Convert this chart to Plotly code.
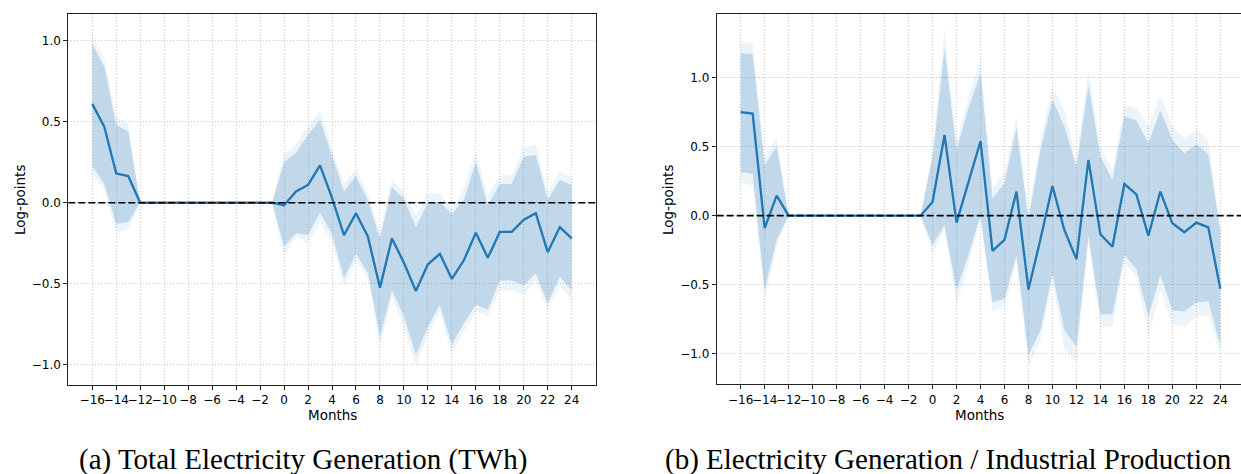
import plotly.graph_objects as go

W, H = 1241, 474

months = [-16, -15, -14, -13, -12, -11, -10, -9, -8, -7, -6, -5, -4, -3, -2, -1,
          0, 1, 2, 3, 4, 5, 6, 7, 8, 9, 10, 11, 12, 13, 14, 15, 16, 17, 18, 19, 20,
          21, 22, 23, 24]
ref_zeros = [0.0] * 12

tick_vals = [-16, -14, -12, -10, -8, -6, -4, -2, 0, 2, 4, 6, 8, 10, 12, 14, 16, 18, 20, 22, 24]
tick_text = ["−16", "−14", "−12", "−10", "−8", "−6", "−4", "−2", "0", "2", "4", "6", "8",
             "10", "12", "14", "16", "18", "20", "22", "24"]
y_vals = [-1.0, -0.5, 0.0, 0.5, 1.0]
y_text = ["−1.0", "−0.5", "0.0", "0.5", "1.0"]

# Panel (a): Total Electricity Generation (TWh)
a_coef = [0.61, 0.47, 0.18, 0.165] + ref_zeros + [
    -0.015, 0.07, 0.11, 0.23, 0.03, -0.20, -0.065, -0.21, -0.525, -0.22, -0.37, -0.545,
    -0.38, -0.315, -0.47, -0.355, -0.185, -0.34, -0.18, -0.18, -0.105, -0.065, -0.305,
    -0.15, -0.22]
a_in_hi = [0.98, 0.84, 0.48, 0.44] + ref_zeros + [
    0.25, 0.31, 0.42, 0.51, 0.29, 0.07, 0.165, 0.015, -0.22, 0.095, 0.025, -0.15,
    0.0, 0.005, -0.07, 0.015, 0.25, -0.015, 0.115, 0.115, 0.285, 0.295, 0.02, 0.14, 0.11]
a_in_lo = [0.23, 0.115, -0.13, -0.12] + ref_zeros + [
    -0.27, -0.19, -0.20, -0.06, -0.19, -0.465, -0.315, -0.435, -0.825, -0.54, -0.70,
    -0.94, -0.765, -0.63, -0.875, -0.745, -0.63, -0.66, -0.48, -0.48, -0.51, -0.435,
    -0.62, -0.455, -0.54]
a_out_hi = [1.04, 0.89, 0.53, 0.485] + ref_zeros + [
    0.30, 0.36, 0.47, 0.565, 0.33, 0.115, 0.21, 0.05, -0.18, 0.145, 0.06, -0.08, 0.065,
    0.055, -0.035, 0.085, 0.32, 0.045, 0.17, 0.17, 0.34, 0.36, 0.06, 0.195, 0.16]
a_out_lo = [0.18, 0.08, -0.185, -0.165] + ref_zeros + [
    -0.325, -0.21, -0.25, -0.12, -0.24, -0.52, -0.355, -0.465, -0.89, -0.58, -0.765,
    -1.01, -0.815, -0.67, -0.94, -0.795, -0.67, -0.70, -0.54, -0.54, -0.57, -0.48,
    -0.66, -0.51, -0.60]

# Panel (b): Electricity Generation / Industrial Production
b_coef = [0.75, 0.74, -0.09, 0.145] + ref_zeros + [
    0.10, 0.585, -0.05, 0.25, 0.54, -0.255, -0.175, 0.175, -0.535, -0.17, 0.215, -0.105,
    -0.315, 0.405, -0.135, -0.225, 0.23, 0.155, -0.145, 0.175, -0.055, -0.12, -0.05,
    -0.085, -0.53]
b_in_hi = [1.18, 1.17, 0.37, 0.50] + ref_zeros + [
    0.42, 1.21, 0.475, 0.78, 1.03, 0.125, 0.235, 0.635, -0.03, 0.475, 0.84, 0.645,
    0.355, 0.945, 0.43, 0.26, 0.72, 0.69, 0.525, 0.765, 0.55, 0.45, 0.52, 0.445, -0.115]
b_in_lo = [0.315, 0.305, -0.54, -0.175] + ref_zeros + [
    -0.215, -0.07, -0.54, -0.28, 0.0, -0.63, -0.60, -0.285, -1.01, -0.83, -0.42, -0.83,
    -0.95, -0.15, -0.715, -0.715, -0.285, -0.385, -0.73, -0.43, -0.685, -0.695, -0.63,
    -0.62, -0.935]
b_out_hi = [1.26, 1.25, 0.43, 0.57] + ref_zeros + [
    0.47, 1.35, 0.525, 0.86, 1.13, 0.20, 0.31, 0.72, 0.02, 0.55, 0.935, 0.765, 0.405,
    1.055, 0.50, 0.33, 0.805, 0.78, 0.645, 0.875, 0.645, 0.56, 0.625, 0.55, -0.08]
b_out_lo = [0.235, 0.22, -0.61, -0.225] + ref_zeros + [
    -0.27, -0.10, -0.635, -0.35, -0.03, -0.695, -0.66, -0.335, -1.095, -0.90, -0.465,
    -0.97, -1.07, -0.175, -0.815, -0.805, -0.335, -0.44, -0.875, -0.54, -0.79, -0.805,
    -0.73, -0.72, -1.01]

captions = ["(a) Total Electricity Generation (TWh)",
            "(b) Electricity Generation / Industrial Production"]

BLUE = "#1f77b4"
OUTER = "rgba(31,119,180,0.08)"
INNER = "rgba(31,119,180,0.22)"

fig = go.Figure()


def add_panel(xa, ya, coef, in_hi, in_lo, out_hi, out_lo):
    for lo, hi, col in [(out_lo, out_hi, OUTER), (in_lo, in_hi, INNER)]:
        fig.add_trace(go.Scatter(x=months, y=lo, mode="lines", line=dict(width=0),
                                 xaxis=xa, yaxis=ya, hoverinfo="skip", showlegend=False))
        fig.add_trace(go.Scatter(x=months, y=hi, mode="lines", line=dict(width=0),
                                 fill="tonexty", fillcolor=col,
                                 xaxis=xa, yaxis=ya, hoverinfo="skip", showlegend=False))
    fig.add_trace(go.Scatter(x=months, y=coef, mode="lines",
                             line=dict(color=BLUE, width=2.3),
                             xaxis=xa, yaxis=ya, showlegend=False))


add_panel("x", "y", a_coef, a_in_hi, a_in_lo, a_out_hi, a_out_lo)
add_panel("x2", "y2", b_coef, b_in_hi, b_in_lo, b_out_hi, b_out_lo)

tickfont = dict(family="DejaVu Sans", size=12, color="black")
xcommon = dict(tickmode="array", tickvals=tick_vals, ticktext=tick_text, tickangle=0,
               showgrid=True, gridcolor="#c8c8c8", gridwidth=0.8, griddash="1px,2px",
               zeroline=False, showline=True, linecolor="#222", linewidth=1,
               ticks="outside", ticklen=4, tickwidth=0.9, tickcolor="#222",
               tickfont=tickfont)
ycommon = dict(tickmode="array", tickvals=y_vals, ticktext=y_text,
               showgrid=True, gridcolor="#c8c8c8", gridwidth=0.8, griddash="1px,2px",
               zeroline=False, showline=True, linecolor="#222", linewidth=1,
               ticks="outside", ticklen=4, tickwidth=0.9, tickcolor="#222",
               tickfont=tickfont)

fig.update_layout(
    width=W, height=H, margin=dict(l=0, r=0, t=0, b=0),
    paper_bgcolor="white", plot_bgcolor="white",
    xaxis=dict(domain=[68.3 / W, 595.7 / W], range=[-18, 26], anchor="y",
               mirror=True, **xcommon),
    yaxis=dict(domain=[1 - 384.7 / H, 1 - 14.3 / H], range=[-1.123, 1.163], anchor="x",
               mirror=True, **ycommon),
    xaxis2=dict(domain=[716.7 / W, 1.0], range=[-18, 25.725], anchor="y2",
                mirror=True, **xcommon),
    yaxis2=dict(domain=[1 - 384.3 / H, 1 - 14.0 / H], range=[-1.222, 1.462], anchor="x2",
                mirror=False, **ycommon),
)

# dashed zero lines
for xr, yr in [("x domain", "y"), ("x2 domain", "y2")]:
    fig.add_shape(type="line", xref=xr, yref=yr, x0=0, x1=1, y0=0, y1=0,
                  line=dict(color="black", width=1.7, dash="7px,3px"), layer="above")

titlefont = dict(family="DejaVu Sans", size=13.5, color="black")
for x_px in [332, 979]:
    fig.add_annotation(text="Months", x=x_px / W, y=1 - 415 / H, xref="paper", yref="paper",
                       showarrow=False, font=titlefont, xanchor="center", yanchor="middle")
for x_px in [20, 668]:
    fig.add_annotation(text="Log-points", x=x_px / W, y=1 - 200 / H, xref="paper",
                       yref="paper", showarrow=False, font=titlefont, textangle=-90,
                       xanchor="center", yanchor="middle")

capfont = dict(family="Liberation Serif", size=29, color="black")
for x_px, txt in [(77, captions[0]), (663, captions[1])]:
    fig.add_annotation(text=txt, x=x_px / W, y=1 - 459 / H, xref="paper", yref="paper",
                       showarrow=False, font=capfont, xanchor="left", yanchor="middle")

fig.write_html("out.html")
